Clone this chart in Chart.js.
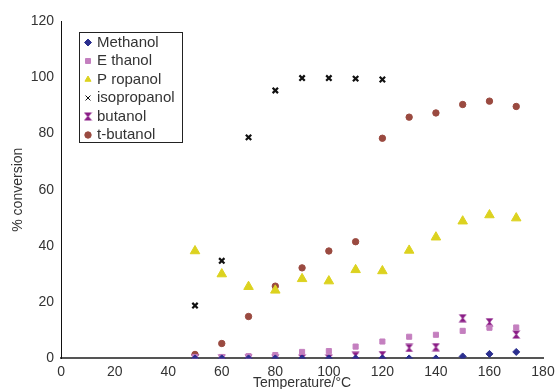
<!DOCTYPE html>
<html>
<head>
<meta charset="utf-8">
<script src="https://cdn.jsdelivr.net/npm/chart.js@4/dist/chart.umd.min.js"></script>
<style>
  html, body { margin: 0; padding: 0; background: #fff; }
  #wrap { position: relative; width: 558px; height: 389px; }
</style>
</head>
<body>
<div id="wrap"><canvas id="c" width="558" height="389"></canvas></div>
<script>
// % conversion vs temperature for six alcohols
const TEMPS = [50, 60, 70, 80, 90, 100, 110, 120, 130, 140, 150, 160, 170];
const ISO_TEMPS = [50, 60, 70, 80, 90, 100, 110, 120];
const methanol    = [0, 0, 0, 0, 0, 0, 0, 0, 0, 0, 0.7, 1.6, 2.3];
const ethanol     = [0.5, 0.5, 0.8, 1.2, 2.3, 2.6, 4.2, 6, 7.7, 8.4, 9.8, 10.9, 11];
const propanol    = [38.2, 30, 25.5, 24.2, 28.3, 27.5, 31.5, 31.1, 38.4, 43.1, 48.8, 51, 49.9];
const isopropanol = [18.8, 34.7, 78.6, 95.3, 99.7, 99.7, 99.5, 99.2];
const butanol     = [0, 0, 0, 0, 0, 0, 0.9, 1.2, 3.7, 4, 14.3, 12.9, 8.5];
const tbutanol    = [1.4, 5.3, 14.9, 25.7, 32.2, 38.2, 41.5, 78.3, 85.8, 87.3, 90.3, 91.5, 89.6];
const X_TICKS = [0, 20, 40, 60, 80, 100, 120, 140, 160, 180];
const Y_TICKS = [0, 20, 40, 60, 80, 100, 120];

const FONT = "'Liberation Sans', Arial, sans-serif";
const TXT = "#333";

// hourglass marker for butanol
function hourglass(color) {
  const cv = document.createElement("canvas");
  cv.width = 9; cv.height = 9;
  const g = cv.getContext("2d");
  g.fillStyle = color;
  g.beginPath();
  g.moveTo(0.5, 0.5); g.lineTo(8.5, 0.5); g.lineTo(5.2, 4.5); g.lineTo(8.5, 8.5);
  g.lineTo(0.5, 8.5); g.lineTo(3.8, 4.5); g.closePath(); g.fill();
  return cv;
}

const pts = (xs, ys) => xs.map((x, i) => ({ x, y: ys[i] }));
const series = [
  { label: "Methanol",    data: pts(TEMPS, methanol),        color: "#2b2f8f", style: "rectRot",  r: 3.5 },
  { label: "E thanol",    data: pts(TEMPS, ethanol),         color: "#c47fbf", style: "rect",     r: 3.6 },
  { label: "P ropanol",   data: pts(TEMPS, propanol),        color: "#dcd21f", style: "triangle", r: 5.5 },
  { label: "isopropanol", data: pts(ISO_TEMPS, isopropanol), color: "#111111", style: "crossRot", r: 3.8, bw: 2.2 },
  { label: "butanol",     data: pts(TEMPS, butanol),         color: "#8a1c86", style: hourglass("#8a1c86"), r: 4.5 },
  { label: "t-butanol",   data: pts(TEMPS, tbutanol),        color: "#9a4a40", style: "circle",   r: 3.2 },
];

// legend box drawn inside the plot area
const boxLegend = {
  id: "boxLegend",
  afterDraw(chart) {
    const ctx = chart.ctx;
    const x0 = 79.5, y0 = 32.5, w = 103, h = 110;
    ctx.save();
    ctx.fillStyle = "#fff";
    ctx.fillRect(x0, y0, w, h);
    ctx.strokeStyle = "#222";
    ctx.lineWidth = 1;
    ctx.strokeRect(x0, y0, w, h);
    ctx.font = "15px " + FONT;
    ctx.textBaseline = "middle";
    series.forEach((s, i) => {
      const cy = 42.5 + i * 18.5;
      const st = { pointStyle: s.style, radius: Math.min(s.r, 3.5), borderWidth: s.bw || 1, rotation: 0 };
      ctx.fillStyle = s.color; ctx.strokeStyle = s.color;
      Chart.helpers.drawPoint(ctx, st, 88, cy);
      ctx.fillStyle = TXT;
      ctx.fillText(s.label, 97, cy);
    });
    ctx.restore();
  }
};

new Chart(document.getElementById("c"), {
  type: "scatter",
  data: {
    datasets: series.map((s) => ({
      label: s.label, data: s.data,
      pointStyle: s.style, pointRadius: s.r, pointHoverRadius: s.r,
      backgroundColor: s.color, borderColor: s.color, borderWidth: s.bw || 1,
    })),
  },
  options: {
    responsive: false, animation: false,
    layout: { padding: { top: 21, right: 15, bottom: -3, left: 10 } },
    plugins: { legend: { display: false }, tooltip: { enabled: false } },
    scales: {
      x: {
        type: "linear", min: 0, max: 180,
        afterBuildTicks: (ax) => { ax.ticks = X_TICKS.map((v) => ({ value: v })); },
        grid: { display: false, drawTicks: true, tickLength: 4 },
        border: { color: "#555", width: 2 },
        ticks: { color: TXT, font: { family: FONT, size: 14 }, padding: 1, maxRotation: 0 },
        title: { display: true, text: "Temperature/°C", color: TXT, font: { family: FONT, size: 14 }, padding: { top: -6, bottom: 0 } },
      },
      y: {
        min: 0, max: 120,
        afterBuildTicks: (ax) => { ax.ticks = Y_TICKS.map((v) => ({ value: v })); },
        grid: { display: false, drawTicks: true, tickLength: 4 },
        border: { color: "#111", width: 1 },
        ticks: { color: TXT, font: { family: FONT, size: 14 }, padding: 3 },
        title: { display: true, text: "% conversion", color: TXT, font: { family: FONT, size: 14 }, padding: { top: 0, bottom: 1 } },
      },
    },
  },
  plugins: [boxLegend],
});
</script>
</body>
</html>
